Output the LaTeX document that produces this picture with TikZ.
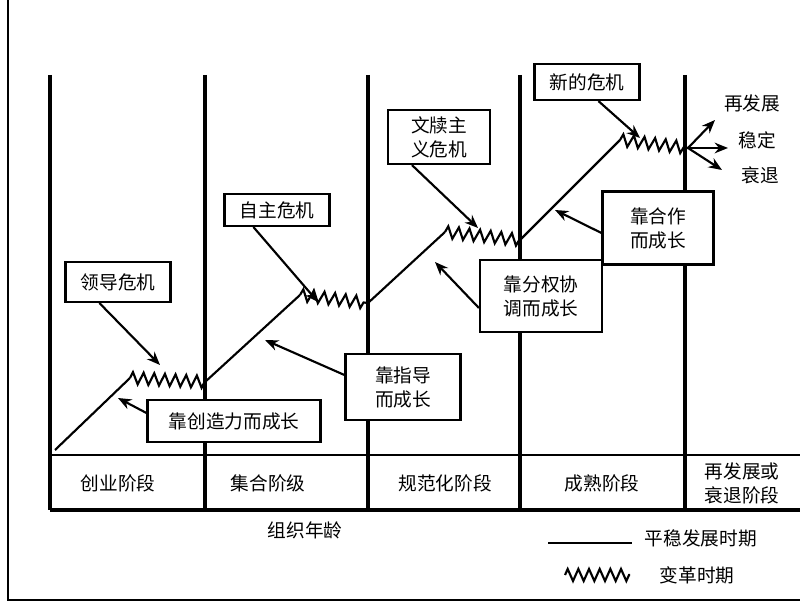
\documentclass[tikz,border=0pt]{standalone}
\usepackage{fontspec}
\setmainfont{Noto Sans CJK SC}
\usetikzlibrary{decorations.pathmorphing,arrows.meta}

\tikzset{
  box/.style={draw, fill=white, line width=1.6pt, align=center, inner sep=4pt, font=\fontsize{14}{18}\selectfont},
  stagetxt/.style={align=center, font=\fontsize{14}{18}\selectfont},
  stageline/.style={line width=3pt},
  calm/.style={line width=1.6pt},
  wave/.style={line width=1.6pt, decorate, decoration={zigzag, segment length=8pt, amplitude=4.5pt}},
  pointer/.style={line width=1.6pt, -{Stealth[length=10pt,width=8pt]}}
}

\begin{document}
\begin{tikzpicture}[x=0.75pt, y=-0.75pt]
  \useasboundingbox (0,0) rectangle (800,605);
  % frame
  \draw[line width=1.5pt] (8,0) -- (8,600) -- (800,600);

  % stage lines
  \foreach \x in {50,205,368,520,685}
    \draw[stageline] (\x,75) -- (\x,510);
  \draw[line width=1pt] (50,455) -- (800,455);
  \draw[stageline] (50,510) -- (800,510);

  % stage names
  \node[stagetxt] (s1) at (118,483) {创业阶段};
  \node[stagetxt] (s2) at (268,483) {集合阶级};
  \node[stagetxt] (s3) at (445,483) {规范化阶段};
  \node[stagetxt] (s4) at (602,483) {成熟阶段};
  \node[stagetxt] (s5) at (742,483) {再发展或\\衰退阶段};
  \node[stagetxt] (age) at (305,530) {组织年龄};

  % growth curve
  \coordinate (p0) at (55,450);
  \coordinate (p1) at (130,378);
  \coordinate (p2) at (205,382);
  \coordinate (p3) at (300,295);
  \coordinate (p4) at (368,303);
  \coordinate (p5) at (445,232);
  \coordinate (p6) at (520,240);
  \coordinate (p7) at (620,140);
  \coordinate (p8) at (688,148);
  \draw[calm] (p0) -- (p1);
  \draw[wave] (p1) -- (p2);
  \draw[calm] (p2) -- (p3);
  \draw[wave] (p3) -- (p4);
  \draw[calm] (p4) -- (p5);
  \draw[wave] (p5) -- (p6);
  \draw[calm] (p6) -- (p7);
  \draw[wave] (p7) -- (p8);

  % outcomes
  \node[stagetxt] (up) at (752,103) {再发展};
  \node[stagetxt] (flat) at (757,140) {稳定};
  \node[stagetxt] (down) at (760,175) {衰退};
  \draw[pointer] (p8) -- (715,120);
  \draw[pointer] (p8) -- (728,148);
  \draw[pointer] (p8) -- (722,170);

  % crises
  \node[box, minimum width=105pt*0.75, minimum height=40pt*0.75] (c1) at (118,282) {领导危机};
  \node[box, minimum width=105pt*0.75, minimum height=32pt*0.75] (c2) at (277,210) {自主危机};
  \node[box, minimum width=102pt*0.75, minimum height=54pt*0.75] (c3) at (439,137) {文牍主\\义危机};
  \node[box, minimum width=105pt*0.75, minimum height=36pt*0.75] (c4) at (587,82) {新的危机};
  \draw[pointer] (c1.south west) ++(35,0) -- (160,365);
  \draw[pointer] (c2.south west) ++(30,0) -- (318,302);
  \draw[pointer] (c3.south west) ++(25,0) -- (478,228);
  \draw[pointer] (c4.south west) ++(65,0) -- (640,138);

  % growth phases
  \node[box, minimum width=173pt*0.75, minimum height=42pt*0.75] (g1) at (234,421) {靠创造力而成长};
  \node[box, minimum width=115pt*0.75, minimum height=66pt*0.75] (g2) at (403,387) {靠指导\\而成长};
  \node[box, minimum width=122pt*0.75, minimum height=72pt*0.75] (g3) at (541,296) {靠分权协\\调而成长};
  \node[box, minimum width=111pt*0.75, minimum height=73pt*0.75] (g4) at (658,228) {靠合作\\而成长};
  \draw[pointer] (g1.west) ++(0,-8) -- (118,398);
  \draw[pointer] (g2.west) ++(0,-12) -- (265,340);
  \draw[pointer] (g3.west) ++(0,12) -- (435,262);
  \draw[pointer] (g4.west) ++(0,5) -- (555,210);

  % legend
  \coordinate (l1) at (548,543);
  \coordinate (l2) at (632,543);
  \coordinate (l3) at (565,575);
  \coordinate (l4) at (630,575);
  \draw[calm] (l1) -- (l2);
  \draw[wave] (l3) -- (l4);
  \node[stagetxt, anchor=west] (k1) at (640,538) {平稳发展时期};
  \node[stagetxt, anchor=west] (k2) at (655,575) {变革时期};
\end{tikzpicture}
\end{document}
